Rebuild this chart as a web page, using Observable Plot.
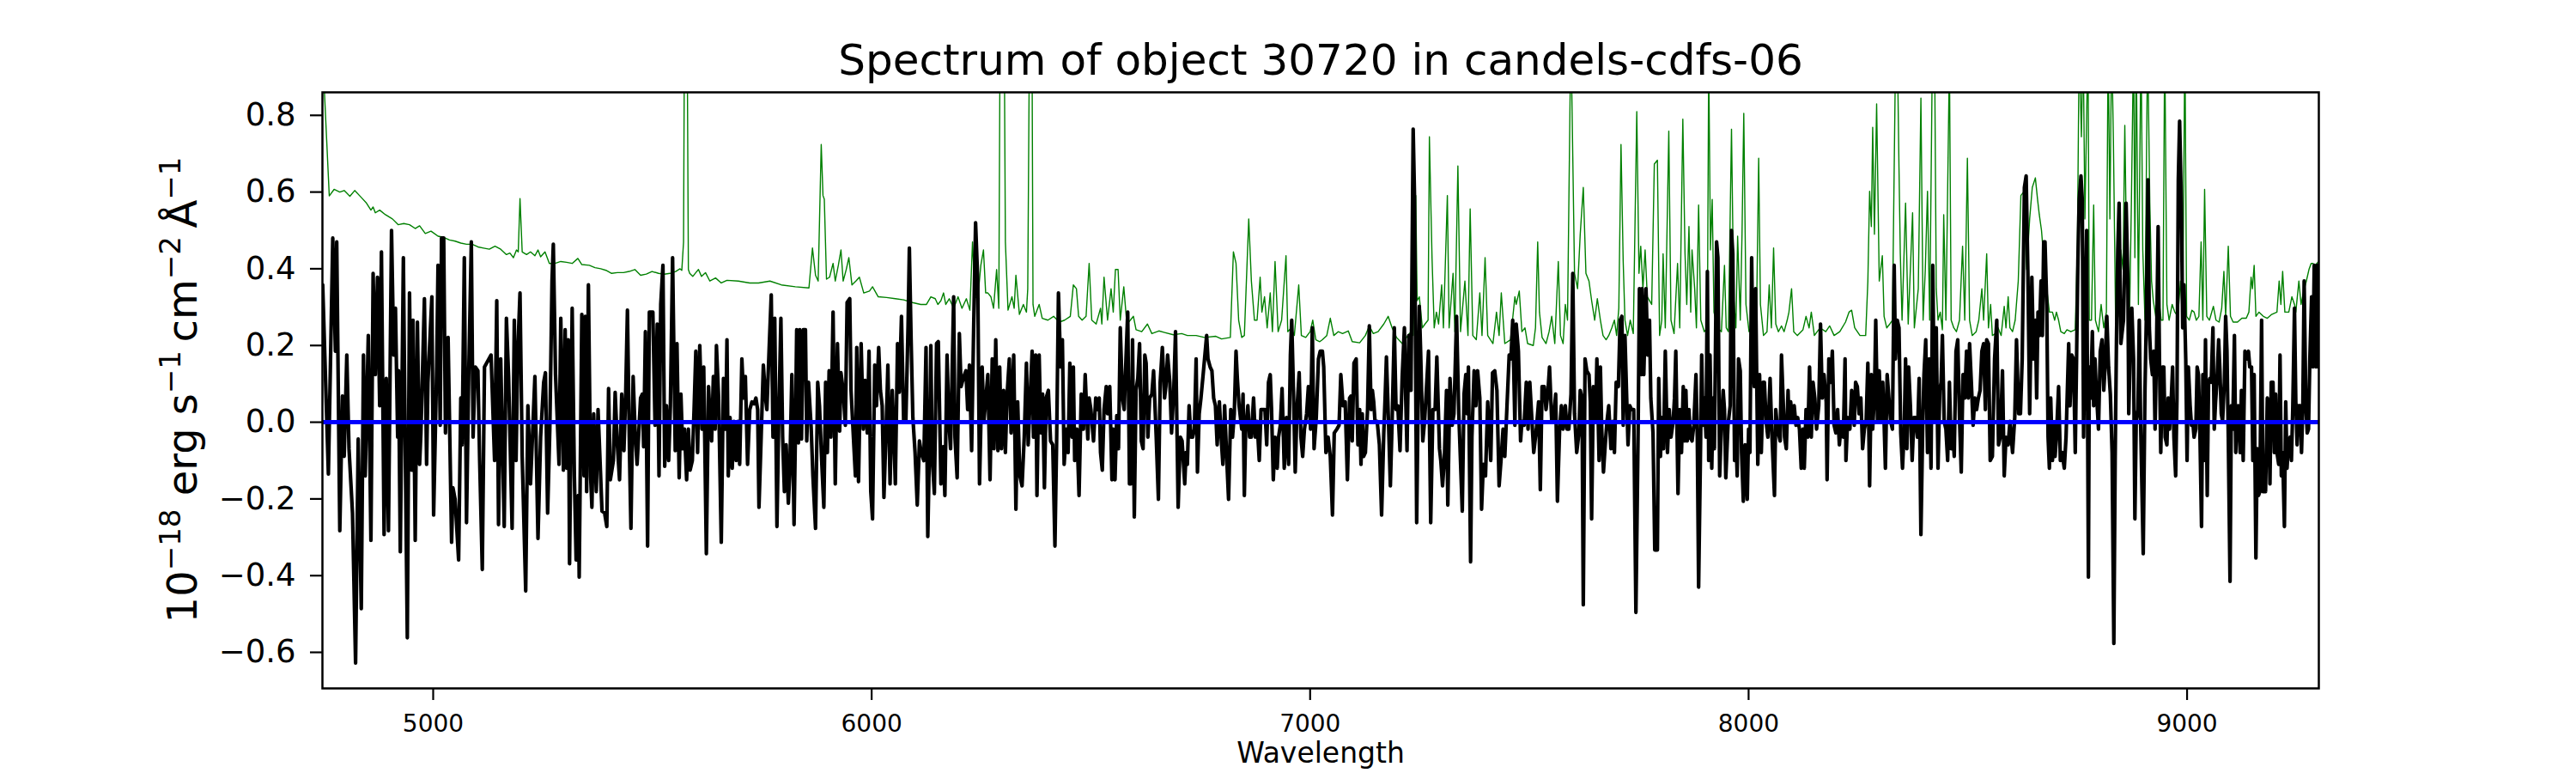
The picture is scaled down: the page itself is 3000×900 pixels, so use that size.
<!DOCTYPE html>
<html>
<head>
<meta charset="utf-8">
<script src="https://cdn.jsdelivr.net/npm/d3@7"></script>
<script src="https://cdn.jsdelivr.net/npm/@observablehq/plot@0.6"></script>
<style>
  html, body { margin: 0; padding: 0; background: white; }
  #chart { width: 3000px; height: 900px; }
</style>
</head>
<body>
<div id="chart"></div>
<script>
// ---- Data: observed flux (black), [wavelength Å, flux 1e-18 cgs] ----
const fluxA = [[4748,0.358],[4761,-0.135],[4771,0.48],[4777,0.185],[4780,0.47],[4787,-0.283],[4793,0.068],[4797,-0.089],[4803,0.175],[4808,-0.069],[4816,-0.237],[4823,-0.628],[4829,-0.044],[4836,-0.486],[4841,0.175],[4845,-0.14],[4852,0.226],[4858,-0.308],[4863,0.388],[4868,0.124],[4873,0.378],[4878,0.043],[4882,0.444],[4888,-0.293],[4893,0.114],[4898,-0.283],[4905,0.5],[4910,0.175],[4914,0.297],[4919,-0.039],[4921,0.134],[4925,-0.338],[4932,0.429],[4936,-0.039],[4941,-0.562],[4946,0.337],[4951,-0.125],[4954,0.266],[4959,-0.308],[4964,0.261],[4969,-0.11],[4972,-0.028],[4980,0.322],[4985,-0.11],[4988,0.104],[4997,0.327],[5001,-0.242],[5008,0.144],[5011,0.409],[5016,-0.008],[5019,0.48],[5024,0.48],[5028,-0.028],[5034,0.221],[5042,-0.313],[5045,-0.171],[5050,-0.201],[5058,-0.359],[5063,0.063],[5066,-0.059],[5071,0.429],[5076,-0.262],[5081,0.124],[5087,0.47],[5091,-0.039],[5096,0.144],[5102,0.134],[5106,-0.1],[5112,-0.384],[5117,0.144],[5127,0.165],[5132,0.175],[5140,-0.1],[5145,0.317],[5149,-0.267],[5154,0.165],[5162,-0.272],[5167,0.271],[5172,0.119],[5180,-0.277],[5185,0.266],[5189,-0.1],[5193,0.185],[5198,0.337],[5203,-0.089],[5211,-0.44],[5216,0.043],[5222,-0.161],[5232,0.119],[5239,-0.303],[5245,-0.039],[5252,0.104],[5256,0.129],[5261,-0.237],[5266,-0.018],[5271,0.368],[5274,0.464],[5279,0.124],[5287,-0.11],[5291,0.271],[5297,-0.125],[5301,0.241],[5305,-0.12],[5308,0.215],[5311,-0.369],[5317,0.297],[5322,-0.14],[5326,-0.359],[5331,-0.191],[5333,-0.404],[5339,0.281],[5344,-0.14],[5347,0.276],[5350,-0.181],[5354,0.358],[5359,-0.14],[5362,-0.222],[5366,0.022],[5372,-0.181],[5376,0.033],[5385,-0.232],[5391,-0.237],[5396,-0.272],[5400,0.088],[5404,-0.15],[5411,-0.1],[5415,0.078],[5420,-0.059],[5425,-0.15],[5430,0.073],[5435,-0.074],[5439,0.073],[5443,0.292],[5448,-0.1],[5451,-0.277],[5456,0.119],[5461,-0.039],[5465,-0.11],[5473,0.063],[5477,0.073],[5480,-0.064],[5484,0.236],[5489,-0.323],[5493,0.287]];
const fluxB = [[5501,0.287],[5506,-0.008],[5511,0.256],[5515,-0.14],[5519,0.307],[5524,0.409],[5528,-0.115],[5532,0.043],[5537,-0.1],[5541,0.043],[5546,0.429],[5552,-0.074],[5556,0.205],[5561,-0.145],[5565,0.073],[5569,-0.069],[5573,-0.018],[5578,-0.15],[5582,-0.018],[5586,-0.125],[5591,-0.1],[5595,0.033],[5599,0.185],[5603,-0.079],[5608,0.2],[5613,-0.018],[5617,0.144],[5623,-0.343],[5628,0.093],[5631,0.022],[5635,-0.049],[5639,0.119],[5643,-0.018],[5646,0.2],[5651,0.063],[5657,-0.313],[5662,0.114],[5667,-0.018],[5670,0.215],[5673,-0.14],[5677,0.012],[5682,-0.12],[5686,0.002],[5691,-0.1],[5695,0.002],[5699,-0.11],[5704,0.165],[5708,0.063],[5712,0.119],[5717,-0.11],[5722,0.033],[5727,0.053],[5732,0.048],[5736,0.063],[5740,0.033],[5743,-0.222],[5748,-0.039],[5753,0.149],[5758,0.063],[5761,0.033],[5766,0.185],[5771,0.332],[5775,-0.039],[5779,0.271],[5784,-0.272],[5788,0.002],[5793,0.271],[5797,-0.039],[5801,-0.181],[5805,-0.059],[5810,-0.211],[5813,-0.14],[5818,0.124],[5823,-0.267],[5826,-0.039],[5829,0.241],[5833,-0.054],[5836,0.241],[5840,-0.044],[5844,0.241],[5849,0.241],[5852,-0.049],[5856,0.104],[5862,-0.013],[5866,-0.14],[5872,-0.277],[5877,0.104],[5881,0.043],[5886,-0.1],[5891,-0.222],[5895,0.104],[5899,-0.079],[5903,0.134],[5907,-0.039],[5912,0.287],[5917,-0.161],[5922,0.205],[5927,-0.023],[5930,0.129],[5935,0.083],[5940,-0.008],[5944,0.312],[5950,0.322],[5953,0.083],[5957,-0.008],[5963,-0.14],[5966,0.195],[5970,-0.155],[5976,0.205],[5981,-0.018],[5985,0.109],[5990,-0.028],[5994,0.185],[5998,-0.181],[6002,-0.252],[6007,0.149],[6011,0.043],[6016,0.195],[6020,0.083],[6024,0.043],[6028,-0.196],[6033,-0.018],[6037,0.149],[6042,-0.161],[6047,0.083],[6050,-0.008],[6054,-0.161],[6059,0.205],[6063,0.078],[6068,0.276],[6073,0.002],[6078,0.002],[6083,0.251],[6086,0.454],[6090,0.215],[6094,0.012],[6099,-0.079],[6104,-0.216],[6109,-0.049],[6113,-0.079],[6119,-0.1],[6124,0.195],[6128,-0.298],[6132,-0.059],[6135,0.2],[6138,-0.089],[6143,-0.186],[6148,0.205],[6152,0.21],[6158,-0.161],[6163,-0.064],[6167,-0.191],[6172,0.175],[6176,0.002],[6180,-0.069],[6187,0.327],[6190,-0.039],[6195,-0.145],[6200,0.231],[6204,0.093],[6210,0.119],[6215,0.134],[6219,0.033],[6223,0.149],[6228,-0.074],[6232,0.205],[6237,0.52],[6242,0.368],[6246,-0.161],[6252,0.144],[6256,0.002]];
const fluxC = [[6265,0.124],[6270,-0.15],[6275,0.165],[6279,-0.069],[6283,0.215],[6288,-0.074],[6292,0.144],[6296,-0.069],[6301,0.083],[6305,-0.079],[6309,0.073],[6314,0.165],[6318,-0.028],[6324,0.175],[6329,-0.227],[6333,0.053],[6338,-0.14],[6343,-0.166],[6348,-0.039],[6353,0.154],[6357,-0.059],[6361,0.053],[6366,0.185],[6369,-0.039],[6374,0.175],[6377,-0.191],[6382,0.175],[6386,-0.028],[6390,0.073],[6394,-0.171],[6398,0.063],[6403,0.083],[6408,-0.049],[6413,-0.059],[6418,-0.323],[6422,-0.039],[6426,0.337],[6431,0.144],[6435,0.215],[6439,-0.11],[6444,-0.018],[6448,-0.079],[6452,0.154],[6457,-0.039],[6460,0.144],[6463,-0.1],[6468,-0.018],[6473,-0.191],[6478,0.073],[6483,-0.018],[6487,0.124],[6493,-0.044],[6496,0.063],[6500,0.033],[6506,-0.049],[6511,0.063],[6515,0.033],[6519,0.063],[6522,-0.079],[6526,-0.125],[6530,0.033],[6535,0.093],[6538,0.022],[6543,0.093],[6548,-0.15],[6551,-0.018],[6555,-0.15],[6559,0.017],[6563,-0.069],[6567,0.246],[6572,0.063],[6576,0.033],[6580,0.165],[6584,0.287],[6588,-0.161],[6591,-0.161],[6595,0.215],[6599,-0.247],[6603,0.083],[6607,0.114],[6611,0.205],[6615,-0.049],[6619,-0.069],[6623,0.175],[6626,0.154],[6630,-0.039],[6634,0.063],[6639,0.073],[6643,0.134],[6649,-0.039],[6654,-0.201],[6658,0.104],[6663,0.195],[6668,0.063],[6671,0.093],[6675,0.175],[6680,0.104],[6684,-0.028],[6689,0.083],[6693,0.236],[6695,0.083],[6699,-0.222],[6704,-0.039],[6708,-0.049],[6714,-0.161],[6717,-0.079],[6720,-0.11],[6724,0.043],[6728,-0.039],[6732,-0.039],[6736,-0.018],[6740,0.165],[6743,-0.13],[6747,0.022],[6751,0.063],[6756,0.124],[6760,0.175],[6764,0.226],[6767,0.165],[6772,0.144],[6776,0.134],[6780,0.063],[6784,0.043],[6788,-0.059],[6793,0.053],[6797,-0.039],[6801,-0.11],[6805,0.043],[6810,-0.1],[6814,-0.201],[6819,0.033],[6823,-0.039],[6827,0.022],[6831,0.185],[6834,0.114],[6838,0.043],[6844,-0.018],[6847,0.073],[6850,-0.191],[6853,-0.018],[6858,0.043],[6862,-0.039],[6866,-0.039],[6871,0.063],[6875,-0.039],[6879,0.002],[6884,-0.1],[6888,0.033],[6892,0.033],[6897,0.033],[6901,-0.059],[6905,0.104],[6909,0.124],[6912,0.033],[6916,-0.15],[6920,-0.039],[6925,-0.12],[6928,-0.039],[6932,-0.008],[6936,0.088],[6941,-0.12],[6946,0.012],[6951,-0.11],[6955,0.175],[6958,0.266],[6962,0.083],[6966,-0.13],[6970,0.033],[6975,0.129],[6979,-0.039],[6983,-0.089],[6987,-0.018],[6992,0.022],[6996,0.093],[7001,-0.018],[7005,0.246],[7009,-0.069],[7014,0.012],[7019,0.165],[7023,0.185]];
const fluxD = [[7028,0.185],[7031,0.144],[7036,-0.079],[7041,-0.039],[7046,-0.089],[7051,-0.242],[7055,-0.028],[7061,-0.018],[7066,-0.008],[7070,0.124],[7075,0.043],[7080,0.053],[7085,-0.15],[7090,0.063],[7093,0.068],[7096,-0.049],[7100,0.154],[7105,0.165],[7109,-0.059],[7113,0.033],[7116,-0.11],[7119,0.022],[7122,-0.089],[7126,-0.079],[7131,0.033],[7135,0.251],[7139,0.033],[7142,0.083],[7145,0.053],[7148,0.002],[7153,0.002],[7158,-0.059],[7163,-0.242],[7168,-0.028],[7171,0.063],[7174,0.17],[7179,-0.008],[7183,-0.166],[7187,0.002],[7192,0.246],[7196,0.033],[7200,0.043],[7205,-0.074],[7210,0.119],[7215,0.246],[7218,0.063],[7221,-0.074],[7225,0.226],[7230,0.083],[7235,0.764],[7238,0.591],[7243,-0.262],[7249,0.302],[7252,0.185],[7257,-0.049],[7261,0.002],[7265,0.083],[7270,0.185],[7275,-0.262],[7280,0.033],[7285,0.033],[7289,0.17],[7295,-0.069],[7298,-0.1],[7302,-0.166],[7306,-0.1],[7311,0.083],[7314,-0.216],[7319,0.114],[7324,-0.008],[7328,0.022],[7334,0.276],[7339,0.022],[7341,-0.039],[7347,-0.232],[7351,0.073],[7355,0.124],[7358,0.022],[7361,0.144],[7366,-0.364],[7369,-0.039],[7374,0.134],[7378,0.043],[7382,0.134],[7387,0.063],[7391,-0.227],[7395,-0.11],[7400,-0.14],[7405,0.053],[7412,-0.1],[7416,0.129],[7421,0.134],[7426,0.083],[7431,-0.166],[7436,-0.089],[7440,-0.018],[7444,-0.089],[7449,0.043],[7454,0.175],[7458,0.165],[7462,0.266],[7467,-0.008],[7470,0.256],[7475,0.185],[7480,-0.049],[7483,0.002],[7488,-0.008],[7493,0.104],[7497,-0.018],[7501,0.104],[7506,0.002],[7510,-0.079],[7516,-0.018],[7521,0.053],[7525,-0.176],[7529,0.093],[7534,0.093],[7538,0.033],[7542,0.073],[7546,0.144],[7551,0.002],[7555,0.002],[7560,0.073],[7564,-0.206],[7569,-0.018],[7573,0.043],[7577,-0.018],[7582,0.043],[7586,-0.018],[7590,-0.018],[7595,0.073],[7599,0.388],[7603,0.022],[7608,-0.079],[7613,-0.028],[7616,0.083],[7620,0.063],[7623,-0.476],[7627,0.165],[7631,0.134],[7636,0.124],[7639,0.053],[7642,-0.252],[7646,0.093],[7651,0.002],[7654,0.165],[7659,-0.1],[7662,0.144],[7665,-0.018],[7669,-0.13],[7673,-0.059],[7677,0.002],[7681,0.043],[7686,-0.069],[7690,0.002],[7694,-0.079],[7698,0.104],[7703,0.093],[7707,0.266],[7711,0.276],[7714,-0.008],[7718,0.226],[7722,0.063],[7725,-0.059],[7729,0.043],[7733,0.033],[7738,0.033],[7743,-0.496],[7748,-0.028],[7751,0.348],[7755,0.124],[7757,0.348],[7761,0.124],[7766,0.348],[7770,0.175],[7774,0.266],[7777,0.063],[7782,-0.028],[7786,-0.333]];
const fluxE = [[7792,-0.333],[7795,0.114],[7799,-0.089],[7802,0.012],[7806,-0.069],[7810,0.185],[7815,-0.079],[7819,0.033],[7823,-0.039],[7828,0.002],[7831,0.063],[7834,0.185],[7839,-0.186],[7843,0.033],[7847,-0.079],[7851,0.093],[7854,-0.049],[7857,0.083],[7860,-0.049],[7864,0.033],[7867,-0.039],[7871,-0.049],[7875,-0.008],[7880,0.124],[7883,-0.039],[7886,-0.43],[7890,-0.1],[7893,0.175],[7896,-0.008],[7899,0.063],[7903,-0.039],[7906,0.393],[7909,-0.1],[7912,0.175],[7916,-0.12],[7919,0.063],[7922,-0.069],[7927,0.47],[7930,0.429],[7934,-0.14],[7938,-0.008],[7942,0.083],[7945,0.033],[7948,-0.145],[7953,-0.008],[7958,0.043],[7961,0.5],[7964,0.439],[7968,-0.1],[7971,-0.028],[7974,-0.14],[7977,0.165],[7981,0.134],[7984,-0.079],[7988,-0.206],[7992,-0.059],[7997,-0.201],[8000,-0.018],[8003,-0.079],[8007,0.429],[8010,0.165],[8013,0.093],[8016,0.348],[8021,-0.11],[8025,0.124],[8029,-0.079],[8033,0.104],[8036,0.104],[8040,0.002],[8044,-0.039],[8049,0.114],[8053,-0.028],[8059,-0.191],[8062,0.033],[8066,-0.018],[8072,-0.049],[8075,0.175],[8078,0.083],[8082,-0.039],[8086,-0.069],[8090,0.083],[8092,0.002],[8096,0.053],[8100,0.002],[8104,0.043],[8108,-0.008],[8112,0.012],[8116,-0.018],[8120,-0.12],[8124,-0.018],[8127,-0.12],[8131,0.033],[8135,-0.039],[8139,0.144],[8143,-0.039],[8147,0.104],[8151,0.063],[8155,-0.018],[8160,0.043],[8164,0.256],[8168,0.063],[8172,0.124],[8177,0.053],[8179,-0.15],[8183,0.165],[8187,0.104],[8191,0.185],[8195,-0.008],[8199,-0.028],[8203,0.033],[8207,-0.059],[8211,-0.008],[8216,-0.039],[8220,0.165],[8222,-0.1],[8226,0.012],[8231,-0.018],[8235,0.083],[8241,-0.008],[8244,0.104],[8248,0.093],[8252,0.022],[8256,0.063],[8260,-0.069],[8264,-0.018],[8268,0.002],[8272,0.154],[8276,-0.166],[8280,0.124],[8283,-0.018],[8287,0.073],[8290,0.266],[8294,0.002],[8298,0.134],[8302,0.002],[8306,0.104],[8309,0.002],[8312,-0.12],[8316,0.124],[8320,0.063],[8324,0.002],[8328,-0.018],[8332,0.409],[8335,0.165],[8339,0.266],[8343,0.246],[8347,-0.028],[8351,-0.12],[8355,-0.018],[8358,0.165],[8361,-0.069],[8365,0.144],[8369,0.043],[8373,-0.1],[8377,0.012],[8381,0.012],[8385,-0.039],[8389,0.114],[8393,-0.293],[8397,-0.018],[8400,0.124],[8404,0.215],[8408,-0.079],[8412,0.165],[8416,-0.12],[8420,0.409],[8424,0.002],[8428,0.246],[8432,-0.12],[8436,0.083],[8439,0.104],[8442,0.226],[8446,0.002],[8450,-0.018],[8454,-0.1],[8458,0.104],[8462,-0.069],[8465,-0.008],[8469,-0.089],[8473,0.185],[8477,0.215],[8481,0.012],[8485,-0.13],[8489,0.124],[8493,0.063],[8497,0.185],[8501,0.063],[8504,0.205],[8508,0.104],[8512,-0.008],[8516,0.063],[8520,0.033],[8524,0.063],[8528,0.083],[8532,0.185],[8536,0.205],[8540,0.033],[8543,0.215],[8547,0.205],[8551,-0.1]];
const fluxF = [[8556,-0.089],[8561,0.165],[8566,0.266],[8570,-0.059],[8574,-0.039],[8579,0.134],[8583,-0.14],[8587,-0.039],[8592,-0.059],[8596,0.002],[8602,-0.079],[8607,0.012],[8611,0.215],[8616,0.022],[8620,0.022],[8624,0.165],[8629,0.612],[8633,0.642],[8637,0.388],[8641,0.022],[8646,0.378],[8650,0.165],[8654,0.266],[8657,0.063],[8660,0.287],[8663,0.226],[8667,0.368],[8670,0.226],[8673,0.47],[8676,0.47],[8680,0.307],[8683,-0.039],[8686,-0.12],[8689,0.063],[8693,-0.1],[8696,-0.008],[8699,-0.089],[8702,-0.039],[8707,0.093],[8711,-0.1],[8715,-0.079],[8720,-0.12],[8724,-0.039],[8726,0.043],[8730,0.205],[8733,0.043],[8737,0.175],[8741,0.165],[8745,-0.079],[8748,0.165],[8751,0.419],[8754,0.581],[8758,0.642],[8761,0.581],[8764,-0.039],[8767,0.226],[8771,0.5],[8775,-0.404],[8777,0.144],[8780,0.063],[8784,0.236],[8787,0.043],[8790,0.165],[8793,0.083],[8798,-0.018],[8802,0.185],[8806,0.215],[8810,0.083],[8813,0.144],[8817,0.276],[8821,0.144],[8825,0.073],[8829,-0.079],[8833,-0.577],[8836,-0.1],[8839,0.215],[8842,0.449],[8845,0.571],[8849,0.205],[8852,0.236],[8855,0.266],[8858,0.429],[8861,0.571],[8865,0.368],[8867,0.022],[8871,0.215],[8874,0.297],[8878,0.165],[8881,-0.252],[8884,0.002],[8888,0.033],[8891,0.266],[8894,0.002],[8900,-0.343],[8904,0.083],[8907,0.266],[8911,0.632],[8914,0.246],[8917,0.165],[8921,0.124],[8924,0.185],[8927,-0.018],[8930,0.165],[8934,0.51],[8937,0.165],[8940,-0.079],[8944,0.144],[8947,0.144],[8950,-0.039],[8954,-0.059],[8957,0.063],[8960,-0.018],[8964,0.063],[8967,0.144],[8970,-0.039],[8974,-0.14],[8977,0.063],[8980,0.632],[8983,0.785],[8987,0.571],[8990,0.246],[8993,0.358],[8997,0.165],[9000,-0.1],[9003,0.144],[9007,0.043],[9010,-0.008],[9013,0.002],[9016,-0.039],[9020,-0.018],[9023,0.144],[9026,0.124],[9029,-0.008],[9033,-0.272],[9036,0.124],[9039,-0.1],[9042,0.215],[9046,-0.191],[9049,0.104],[9052,0.114],[9055,0.104],[9059,0.246],[9062,-0.018],[9065,0.053],[9068,0.104],[9072,0.215],[9075,0.134],[9078,0.022],[9081,0.002],[9085,0.104],[9088,0.276],[9091,0.185],[9094,-0.039],[9098,-0.415],[9101,0.043],[9104,-0.018],[9108,0.226],[9111,-0.079],[9114,0.033],[9117,0.043],[9121,-0.079],[9124,0.083],[9128,-0.1],[9132,0.185],[9136,0.165],[9140,0.185],[9143,0.144],[9147,0.144],[9150,-0.1],[9153,0.124],[9157,-0.354],[9160,-0.069],[9163,-0.191],[9166,-0.181],[9170,0.266],[9173,-0.181],[9176,-0.089],[9179,-0.181],[9183,0.063],[9186,0.043],[9189,-0.161],[9192,0.104],[9196,0.104],[9199,-0.079],[9202,0.073],[9205,-0.079],[9209,-0.11],[9212,0.175],[9215,-0.14],[9218,-0.079],[9222,-0.272],[9225,0.053],[9228,-0.12],[9231,-0.059],[9235,-0.039],[9238,-0.1],[9241,0.033],[9245,0.297],[9248,0.053],[9251,-0.059],[9254,0.043],[9258,0.043],[9261,-0.079],[9264,0.043],[9267,0.368],[9271,0.043],[9274,-0.028],[9277,-0.018],[9280,0.165],[9284,0.327],[9287,0.144],[9290,0.409],[9294,0.144],[9297,0.409],[9300,0.144]];

// ---- Data: noise / error spectrum (green) ----
const errA = [[4748,0.98],[4752,0.86],[4763,0.59],[4774,0.607],[4787,0.6],[4797,0.604],[4810,0.589],[4821,0.604],[4836,0.586],[4848,0.571],[4858,0.553],[4863,0.561],[4868,0.546],[4878,0.553],[4891,0.541],[4907,0.53],[4920,0.515],[4933,0.518],[4946,0.515],[4959,0.505],[4969,0.512],[4982,0.492],[4995,0.498],[5011,0.485],[5024,0.482],[5037,0.475],[5050,0.472],[5063,0.467],[5076,0.464],[5089,0.464],[5102,0.457],[5115,0.454],[5128,0.451],[5141,0.459],[5154,0.451],[5167,0.437],[5175,0.441],[5183,0.429],[5190,0.449],[5194,0.444],[5198,0.583],[5203,0.444],[5213,0.437],[5222,0.444],[5232,0.434],[5239,0.449],[5245,0.431],[5255,0.444],[5265,0.414],[5278,0.414],[5291,0.419],[5304,0.417],[5317,0.414],[5330,0.427],[5339,0.411],[5356,0.409],[5369,0.403],[5382,0.4],[5394,0.396],[5407,0.388],[5420,0.39],[5434,0.39],[5447,0.393],[5460,0.398],[5473,0.383],[5486,0.386],[5499,0.393]];
const errB = [[5514,0.388],[5527,0.386],[5540,0.388],[5553,0.393],[5563,0.4],[5567,0.396],[5571,0.47],[5574,1.3],[5578,1.3],[5582,0.398],[5585,0.388],[5592,0.38],[5599,0.39],[5605,0.398],[5612,0.38],[5621,0.39],[5631,0.368],[5644,0.376],[5657,0.363],[5670,0.37],[5696,0.368],[5722,0.363],[5742,0.363],[5768,0.368],[5794,0.358],[5826,0.353],[5857,0.35],[5865,0.454],[5872,0.383],[5878,0.368],[5885,0.724],[5889,0.591],[5892,0.581],[5897,0.373],[5904,0.378],[5912,0.414],[5917,0.368],[5924,0.409],[5930,0.449],[5935,0.368],[5942,0.398],[5948,0.429],[5955,0.358],[5964,0.368],[5972,0.378],[5982,0.337],[5995,0.342],[6002,0.353],[6015,0.327],[6034,0.325],[6054,0.322],[6073,0.319],[6093,0.312],[6112,0.307],[6125,0.307],[6135,0.327],[6145,0.322],[6151,0.307],[6158,0.317],[6164,0.337],[6169,0.307],[6177,0.322],[6187,0.297],[6197,0.327],[6206,0.297],[6216,0.322],[6224,0.292],[6230,0.47],[6236,0.327],[6242,0.322],[6249,0.409],[6255,0.449],[6260,0.337]];
const errC = [[6265,0.337],[6272,0.327],[6278,0.297],[6285,0.398],[6290,0.297],[6294,1.3],[6301,1.3],[6305,0.47],[6311,0.292],[6320,0.327],[6325,0.297],[6329,0.383],[6337,0.281],[6346,0.307],[6353,0.287],[6356,0.348],[6361,1.2],[6365,1.2],[6368,0.307],[6372,0.276],[6382,0.307],[6389,0.271],[6402,0.266],[6415,0.276],[6428,0.261],[6440,0.266],[6453,0.276],[6460,0.358],[6467,0.348],[6472,0.276],[6480,0.266],[6489,0.276],[6496,0.414],[6502,0.266],[6512,0.256],[6522,0.297],[6525,0.256],[6530,0.378],[6538,0.266],[6546,0.348],[6551,0.287],[6556,0.398],[6562,0.398],[6567,0.266],[6575,0.353],[6582,0.256],[6590,0.266],[6597,0.276],[6603,0.241],[6616,0.236],[6629,0.256],[6639,0.231],[6655,0.238],[6668,0.234],[6688,0.228],[6707,0.231],[6720,0.226],[6740,0.226],[6759,0.221],[6785,0.224],[6798,0.217],[6818,0.221],[6825,0.444],[6831,0.414],[6837,0.266],[6844,0.221],[6850,0.226],[6860,0.53],[6866,0.368],[6873,0.266],[6879,0.266],[6886,0.378],[6890,0.287],[6896,0.327],[6902,0.246],[6909,0.337],[6914,0.236],[6920,0.419],[6927,0.236],[6935,0.266],[6945,0.434],[6949,0.236],[6957,0.246],[6964,0.226],[6974,0.358],[6980,0.226],[6990,0.221],[7000,0.236],[7006,0.266],[7013,0.215],[7022,0.21]];
const errD = [[7028,0.215],[7038,0.226],[7046,0.271],[7054,0.226],[7064,0.236],[7074,0.231],[7087,0.238],[7096,0.21],[7113,0.207],[7126,0.226],[7135,0.251],[7144,0.231],[7155,0.236],[7168,0.256],[7178,0.276],[7187,0.246],[7197,0.221],[7210,0.205],[7223,0.226],[7230,0.236],[7235,0.226],[7241,0.591],[7244,0.317],[7249,0.327],[7256,0.246],[7262,0.256],[7269,0.266],[7272,0.744],[7278,0.429],[7283,0.246],[7288,0.287],[7293,0.256],[7300,0.358],[7304,0.246],[7313,0.591],[7317,0.246],[7326,0.388],[7330,0.236],[7337,0.668],[7343,0.236],[7353,0.368],[7360,0.226],[7365,0.556],[7371,0.226],[7379,0.215],[7387,0.337],[7392,0.226],[7399,0.429],[7405,0.226],[7417,0.205],[7425,0.287],[7431,0.226],[7436,0.337],[7444,0.205],[7457,0.215],[7467,0.327],[7470,0.307],[7477,0.342],[7483,0.236],[7490,0.246],[7496,0.205],[7509,0.2],[7514,0.246],[7519,0.47],[7523,0.287],[7529,0.221],[7538,0.205],[7545,0.236],[7551,0.276],[7558,0.205],[7566,0.419],[7571,0.226],[7577,0.205],[7582,0.307],[7587,0.266],[7593,0.86],[7595,1.0],[7599,0.693],[7603,0.388],[7610,0.348],[7616,0.49],[7623,0.612],[7629,0.388],[7636,0.368],[7642,0.317],[7649,0.266],[7655,0.322],[7662,0.266],[7668,0.226],[7675,0.215],[7681,0.226],[7688,0.246],[7694,0.266],[7699,0.226],[7704,0.297],[7709,0.724],[7714,0.419],[7718,0.266],[7724,0.226],[7730,0.266],[7737,0.231],[7745,0.81],[7750,0.388],[7754,0.459],[7759,0.348],[7764,0.449],[7769,0.327],[7779,0.307],[7785,0.673]];
const errE = [[7792,0.683],[7797,0.226],[7802,0.266],[7805,0.439],[7810,0.246],[7818,0.759],[7823,0.266],[7830,0.231],[7838,0.414],[7843,0.246],[7850,0.79],[7855,0.439],[7859,0.307],[7864,0.51],[7868,0.287],[7871,0.449],[7877,0.348],[7881,0.246],[7886,0.566],[7891,0.266],[7899,0.236],[7906,0.246],[7909,0.95],[7913,0.449],[7917,0.581],[7921,0.287],[7929,0.246],[7938,0.236],[7945,0.409],[7949,0.246],[7954,0.236],[7961,0.764],[7966,0.327],[7971,0.246],[7975,0.485],[7981,0.266],[7985,0.49],[7989,0.805],[7994,0.307],[8001,0.236],[8010,0.256],[8018,0.266],[8023,0.688],[8027,0.307],[8034,0.226],[8042,0.236],[8047,0.358],[8052,0.246],[8057,0.454],[8062,0.256],[8068,0.236],[8075,0.251],[8081,0.236],[8088,0.266],[8092,0.287],[8098,0.348],[8103,0.236],[8111,0.226],[8124,0.241],[8131,0.276],[8138,0.246],[8143,0.287],[8150,0.226],[8163,0.246],[8176,0.236],[8185,0.251],[8195,0.226],[8208,0.236],[8221,0.261],[8229,0.287],[8235,0.292],[8242,0.246],[8254,0.226],[8267,0.226],[8272,0.368],[8276,0.602],[8280,0.51],[8283,0.769],[8287,0.49],[8292,0.83],[8298,0.368],[8305,0.434],[8309,0.276],[8315,0.246],[8322,0.256],[8328,0.266],[8335,0.95],[8339,1.0],[8343,0.663],[8346,0.439],[8350,0.266],[8358,0.571],[8364,0.256],[8374,0.546],[8378,0.246],[8387,0.348],[8393,0.845],[8398,0.266],[8403,0.398],[8408,0.602],[8413,0.266],[8419,0.95],[8424,1.0],[8428,0.348],[8432,0.266],[8437,0.287],[8442,0.241],[8445,0.541],[8450,0.266],[8458,0.95],[8462,0.266],[8468,0.246],[8474,0.236],[8481,0.266],[8488,0.459],[8493,0.266],[8499,0.688],[8504,0.266],[8510,0.226],[8519,0.236],[8525,0.266],[8532,0.348],[8536,0.266],[8543,0.439],[8547,0.246],[8552,0.307]];
const errF = [[8556,0.226],[8563,0.231],[8569,0.246],[8576,0.226],[8583,0.302],[8587,0.246],[8592,0.327],[8596,0.246],[8602,0.236],[8608,0.266],[8615,0.368],[8621,0.591],[8628,0.601],[8634,0.398],[8641,0.53],[8647,0.612],[8654,0.637],[8659,0.581],[8663,0.541],[8668,0.5],[8673,0.429],[8680,0.348],[8686,0.287],[8693,0.287],[8698,0.266],[8702,0.287],[8707,0.266],[8712,0.236],[8720,0.231],[8726,0.241],[8735,0.236],[8745,0.241],[8750,0.47],[8754,1.0],[8759,0.744],[8763,1.0],[8767,0.53],[8774,1.0],[8777,0.266],[8782,0.266],[8787,0.566],[8791,0.266],[8798,0.236],[8804,0.307],[8810,0.246],[8816,0.287],[8820,1.0],[8824,0.53],[8828,1.0],[8832,0.734],[8837,0.266],[8843,0.276],[8849,0.449],[8854,0.398],[8858,0.774],[8863,0.358],[8869,0.287],[8873,0.571],[8878,1.0],[8881,0.429],[8884,1.0],[8889,0.307],[8895,1.0],[8899,0.449],[8904,0.266],[8910,1.0],[8915,0.571],[8919,0.368],[8923,0.317],[8930,0.266],[8936,0.317],[8941,0.266],[8945,0.266],[8949,1.0],[8954,0.307],[8959,0.266],[8966,0.307],[8972,0.287],[8979,0.276],[8985,0.368],[8990,0.266],[8995,1.0],[8999,0.276],[9005,0.266],[9011,0.292],[9016,0.287],[9021,0.266],[9027,0.276],[9032,0.47],[9036,0.266],[9040,0.607],[9045,0.276],[9051,0.266],[9060,0.302],[9066,0.266],[9073,0.261],[9079,0.297],[9084,0.393],[9088,0.276],[9094,0.459],[9099,0.276],[9105,0.261],[9115,0.261],[9125,0.271],[9135,0.271],[9141,0.287],[9146,0.378],[9149,0.348],[9153,0.409],[9157,0.276],[9164,0.287],[9174,0.276],[9183,0.271],[9193,0.281],[9205,0.287],[9210,0.368],[9214,0.307],[9218,0.393],[9223,0.287],[9232,0.287],[9239,0.327],[9245,0.307],[9248,0.287],[9255,0.368],[9260,0.307],[9265,0.337],[9272,0.368],[9278,0.398],[9283,0.414],[9287,0.414],[9292,0.409],[9300,0.419]];

// ---- Axes / labels ----
const xTicks = [5000, 6000, 7000, 8000, 9000];
const yTicks = [-0.6, -0.4, -0.2, 0.0, 0.2, 0.4, 0.6, 0.8];
const xDomain = [4747.4, 9300.5];
const yDomain = [-0.694, 0.86];
const titleText = "Spectrum of object 30720 in candels-cdfs-06";
const xLabelText = "Wavelength";
const zeroLevel = [0];

const flux = [...fluxA, ...fluxB, ...fluxC, ...fluxD, ...fluxE, ...fluxF].map(([w, v]) => ({w, v}));
const err = [...errA, ...errB, ...errC, ...errD, ...errE, ...errF].map(([w, v]) => ({w, v}));

const fmtY = d => (d < 0 ? "\u2212" : "") + Math.abs(d).toFixed(1);

const chart = Plot.plot({
  width: 3000,
  height: 900,
  marginLeft: 375,
  marginRight: 300,
  marginTop: 107,
  marginBottom: 99,
  style: {fontFamily: "DejaVu Sans", background: "white", color: "black", overflow: "visible"},
  x: {domain: xDomain},
  y: {domain: yDomain},
  marks: [
    Plot.line(err, {x: "w", y: "v", stroke: "#008000", strokeWidth: 1.4, clip: true}),
    Plot.line(flux, {x: "w", y: "v", stroke: "black", strokeWidth: 4.2, clip: true}),
    Plot.ruleY(zeroLevel, {stroke: "#0000ff", strokeWidth: 5}),
    Plot.frame({stroke: "black", strokeWidth: 2.5}),
    Plot.axisX({ticks: xTicks, tickFormat: d => String(d), tickSize: 14, tickPadding: 17, strokeWidth: 2.2, fontSize: 28, label: null}),
    Plot.axisY({ticks: yTicks, tickFormat: fmtY, tickSize: 14, tickPadding: 17, strokeWidth: 2.2, fontSize: 37, label: null}),
    Plot.text([titleText], {frameAnchor: "top", dy: -56.5, fontSize: 50, lineAnchor: "top", fill: "black"}),
    Plot.text([xLabelText], {frameAnchor: "bottom", dy: 62.6, fontSize: 33, lineAnchor: "top", fill: "black"})
  ]
});

// y-axis label with superscripts (real text)
const svg = d3.select(chart);
const F = 48, S = 34, up = 19;
const yl = svg.append("text")
  .attr("transform", "translate(229,454) rotate(-90)")
  .attr("text-anchor", "middle")
  .attr("font-family", "DejaVu Sans")
  .attr("font-size", F)
  .attr("fill", "black");
const parts = [
  ["10", false], ["\u221218", true], [" erg s", false], ["\u22121", true],
  ["\u2009cm", false], ["\u22122", true], ["\u2009\u00C5", false], ["\u22121", true]
];
let raised = false;
for (const [t, sup] of parts) {
  const ts = yl.append("tspan").text(t).attr("font-size", sup ? S : F);
  if (sup && !raised) { ts.attr("dy", -up); raised = true; }
  else if (!sup && raised) { ts.attr("dy", up); raised = false; }
}

document.getElementById("chart").appendChild(chart);
</script>
</body>
</html>
